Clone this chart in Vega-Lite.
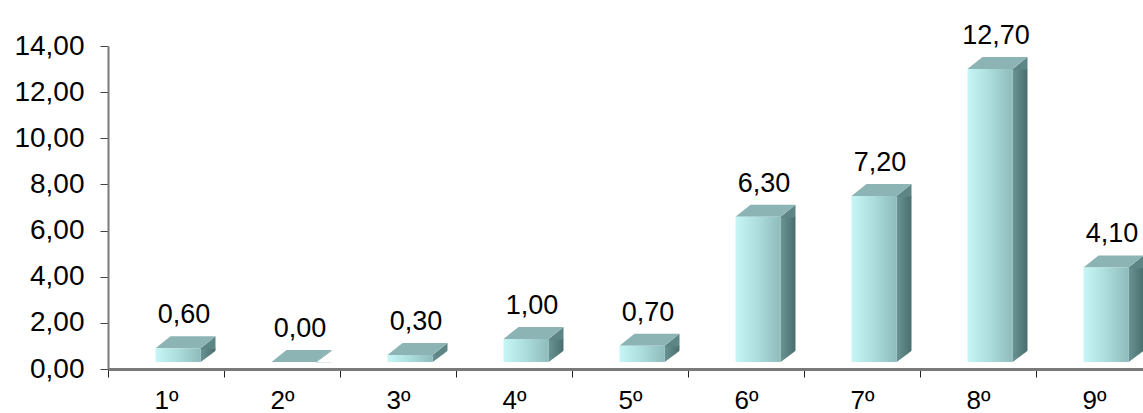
{
  "$schema": "https://vega.github.io/schema/vega-lite/v6.json",
  "width": 1044,
  "height": 323,
  "autosize": {"type": "none"},
  "padding": {"left": 108, "top": 46, "right": 0, "bottom": 44},
  "background": "white",
  "config": {
    "locale": {"number": {"decimal": ",", "thousands": ".", "grouping": [3], "currency": ["", ""]}},
    "view": {"stroke": null},
    "font": "Liberation Sans"
  },
  "data": {
    "values": [
      {"serie": "1º", "valor": 0.6},
      {"serie": "2º", "valor": 0.0},
      {"serie": "3º", "valor": 0.3},
      {"serie": "4º", "valor": 1.0},
      {"serie": "5º", "valor": 0.7},
      {"serie": "6º", "valor": 6.3},
      {"serie": "7º", "valor": 7.2},
      {"serie": "8º", "valor": 12.7},
      {"serie": "9º", "valor": 4.1}
    ]
  },
  "encoding": {
    "x": {
      "field": "serie",
      "type": "nominal",
      "sort": null,
      "scale": {"paddingInner": 0, "paddingOuter": 0},
      "axis": {
        "title": null,
        "labelAngle": 0,
        "labelFontSize": 26,
        "labelFont": "Liberation Sans",
        "labelColor": "black",
        "labelPadding": 10,
        "tickBand": "extent",
        "tickColor": "#222222",
        "tickSize": 8,
        "domainColor": "#7a7a7a",
        "domainWidth": 3
      }
    },
    "y": {
      "field": "valor",
      "type": "quantitative",
      "scale": {"domain": [0, 14]},
      "axis": {
        "title": null,
        "values": [0, 2, 4, 6, 8, 10, 12, 14],
        "format": ".2f",
        "labelFontSize": 28,
        "labelFont": "Liberation Sans",
        "labelColor": "black",
        "labelPadding": 16,
        "tickSize": 8,
        "tickColor": "#444444",
        "domainColor": "#7a7a7a",
        "domainWidth": 2,
        "grid": false
      }
    }
  },
  "layer": [
    {
      "mark": {
        "type": "bar",
        "width": 15,
        "xOffset": 42,
        "yOffset": -7,
        "color": {
          "gradient": "linear", "x1": 0, "x2": 1, "y1": 0, "y2": 0,
          "stops": [{"offset": 0, "color": "#6a9494"}, {"offset": 1, "color": "#4a6e6e"}]
        }
      }
    },
    {
      "mark": {
        "type": "point",
        "shape": "M-0.55,0.45 L0.5,-0.4 L0.5,0.45 Z",
        "size": 900,
        "filled": true,
        "opacity": 1,
        "strokeWidth": 0,
        "color": "#5d8585",
        "xOffset": 42,
        "yOffset": -13
      }
    },
    {
      "mark": {
        "type": "point",
        "shape": "M-0.55,0.45 L0.6,0.45 L0.6,-0.42 Z",
        "size": 900,
        "filled": true,
        "opacity": 1,
        "strokeWidth": 0,
        "color": "white",
        "xOffset": 42,
        "yOffset": -13
      },
      "encoding": {"y": {"datum": 0}}
    },
    {
      "mark": {
        "type": "point",
        "shape": "M-1,0.2 L0.5,0.2 L1,-0.2 L-0.5,-0.2 Z",
        "size": 3600,
        "filled": true,
        "opacity": 1,
        "strokeWidth": 0,
        "color": "#8db4b4",
        "xOffset": 19.5,
        "yOffset": -13
      }
    },
    {
      "mark": {
        "type": "bar",
        "width": 45,
        "xOffset": 12,
        "yOffset": -7,
        "color": {
          "gradient": "linear", "x1": 0, "x2": 1, "y1": 0, "y2": 0,
          "stops": [{"offset": 0, "color": "#c6f6f6"}, {"offset": 0.5, "color": "#acdcdc"}, {"offset": 1, "color": "#8fbcbc"}]
        }
      }
    },
    {
      "mark": {
        "type": "text",
        "fontSize": 27,
        "font": "Liberation Sans",
        "baseline": "bottom",
        "dy": -26,
        "dx": 18,
        "color": "black"
      },
      "encoding": {
        "text": {"field": "valor", "type": "quantitative", "format": ".2f"}
      }
    }
  ]
}
